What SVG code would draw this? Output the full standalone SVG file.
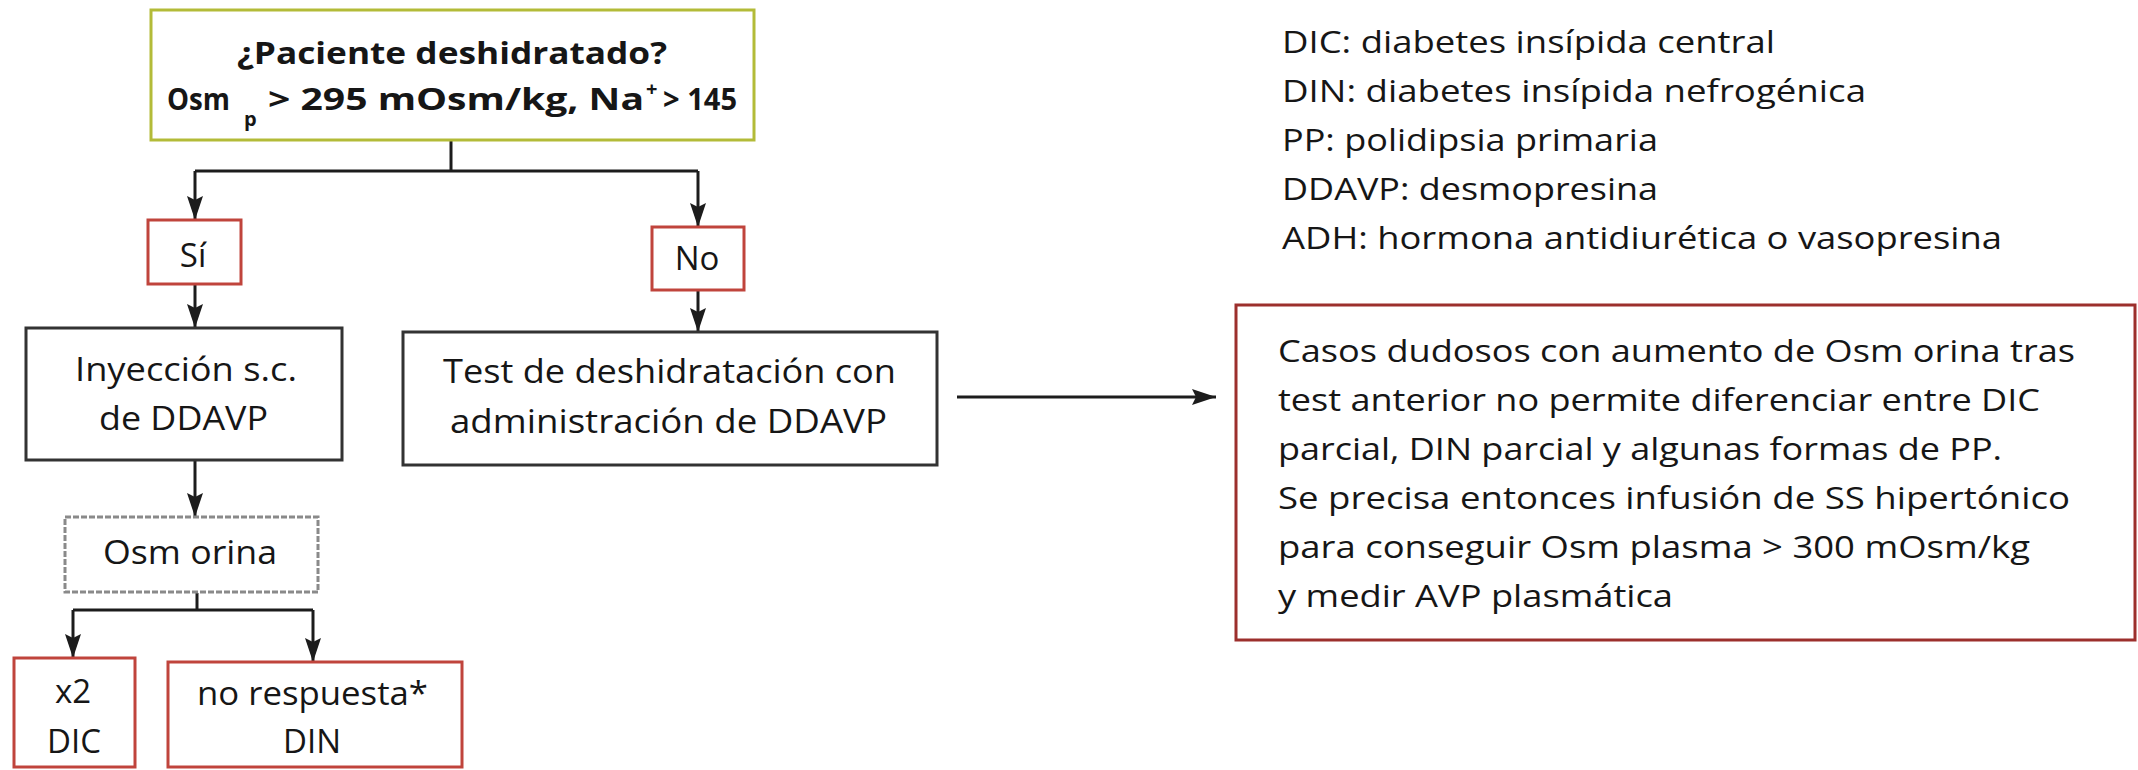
<svg xmlns="http://www.w3.org/2000/svg" width="2138" height="770" viewBox="0 0 2138 770">
<defs>
<style>
text{font-family:"Open Sans","Noto Sans","Liberation Sans",sans-serif;font-size:31px;fill:#161616}
.b{font-weight:bold}
.sm{font-size:20px}
.c{text-anchor:middle}
.t{font-size:33px}
.box{fill:#ffffff;stroke-width:3}
.yel{stroke:#b3bb38}
.red{stroke:#c0443c}
.blk{stroke:#333333}
.gry{stroke:#8a8a8a;stroke-dasharray:6 2}
.dred{stroke:#9c2f2c}
.ln{fill:none;stroke:#1c1c1c;stroke-width:3}
</style>
<marker id="ah" markerUnits="userSpaceOnUse" markerWidth="24" markerHeight="16" refX="24" refY="8" orient="auto" viewBox="0 0 24 16">
<path d="M0,0 L24,8 L0,16 L4,8 Z" fill="#1c1c1c"/>
</marker>
</defs>
<rect width="2138" height="770" fill="#ffffff"/>

<g id="connectors">
<path class="ln" d="M451,140 V171"/>
<path class="ln" d="M195,171 H698"/>
<path class="ln" d="M195,171 V220" marker-end="url(#ah)"/>
<path class="ln" d="M698,171 V227" marker-end="url(#ah)"/>
<path class="ln" d="M195,285 V328" marker-end="url(#ah)"/>
<path class="ln" d="M698,291 V332" marker-end="url(#ah)"/>
<path class="ln" d="M195,461 V517" marker-end="url(#ah)"/>
<path class="ln" d="M957,397 H1216" marker-end="url(#ah)"/>
<path class="ln" d="M197,593 V610"/>
<path class="ln" d="M73,610 H313"/>
<path class="ln" d="M73,610 V658" marker-end="url(#ah)"/>
<path class="ln" d="M313,610 V662" marker-end="url(#ah)"/>
</g>

<g id="n-paciente">
<rect class="box yel" x="151" y="10" width="603" height="130"/>
<text class="b" x="237" y="64" textLength="430" lengthAdjust="spacingAndGlyphs">¿Paciente deshidratado?</text>
<text class="b" x="167" y="110" textLength="63" lengthAdjust="spacingAndGlyphs">Osm</text>
<text class="b sm" x="244" y="126">p</text>
<text class="b" x="268" y="110" textLength="376" lengthAdjust="spacingAndGlyphs">&gt; 295 mOsm/kg, Na</text>
<text class="b sm" x="646" y="96">+</text>
<text class="b" x="663" y="110" textLength="74" lengthAdjust="spacingAndGlyphs">&gt; 145</text>
</g>

<g id="n-si">
<rect class="box red" x="148" y="220" width="93" height="64"/>
<text class="c t" x="193" y="267">Sí</text>
</g>

<g id="n-no">
<rect class="box red" x="652" y="227" width="92" height="63"/>
<text class="c t" x="697" y="270">No</text>
</g>

<g id="n-inyeccion">
<rect class="box blk" x="26" y="328" width="316" height="132"/>
<text class="t" x="75" y="381" textLength="222" lengthAdjust="spacingAndGlyphs">Inyección s.c.</text>
<text class="t" x="99" y="430" textLength="169" lengthAdjust="spacingAndGlyphs">de DDAVP</text>
</g>

<g id="n-test">
<rect class="box blk" x="403" y="332" width="534" height="133"/>
<text class="t" x="443" y="383" textLength="453" lengthAdjust="spacingAndGlyphs">Test de deshidratación con</text>
<text class="t" x="450" y="433" textLength="437" lengthAdjust="spacingAndGlyphs">administración de DDAVP</text>
</g>

<g id="n-osm">
<rect class="box gry" x="65" y="517" width="253" height="75"/>
<text class="t" x="103" y="564" textLength="174" lengthAdjust="spacingAndGlyphs">Osm orina</text>
</g>

<g id="n-dic">
<rect class="box red" x="14" y="658" width="121" height="109"/>
<text class="c t" x="73" y="703">x2</text>
<text class="c t" x="74" y="753">DIC</text>
</g>

<g id="n-din">
<rect class="box red" x="168" y="662" width="294" height="105"/>
<text class="t" x="197" y="705" textLength="231" lengthAdjust="spacingAndGlyphs">no respuesta*</text>
<text class="c t" x="312" y="753">DIN</text>
</g>

<g id="legend">
<text x="1282" y="53" textLength="493" lengthAdjust="spacingAndGlyphs">DIC: diabetes insípida central</text>
<text x="1282" y="102" textLength="584" lengthAdjust="spacingAndGlyphs">DIN: diabetes insípida nefrogénica</text>
<text x="1282" y="151" textLength="376" lengthAdjust="spacingAndGlyphs">PP: polidipsia primaria</text>
<text x="1282" y="200" textLength="376" lengthAdjust="spacingAndGlyphs">DDAVP: desmopresina</text>
<text x="1282" y="249" textLength="720" lengthAdjust="spacingAndGlyphs">ADH: hormona antidiurética o vasopresina</text>
</g>

<g id="n-casos">
<rect class="box dred" x="1236" y="305" width="899" height="335"/>
<text x="1278" y="362" textLength="797" lengthAdjust="spacingAndGlyphs">Casos dudosos con aumento de Osm orina tras</text>
<text x="1278" y="411" textLength="762" lengthAdjust="spacingAndGlyphs">test anterior no permite diferenciar entre DIC</text>
<text x="1278" y="460" textLength="724" lengthAdjust="spacingAndGlyphs">parcial, DIN parcial y algunas formas de PP.</text>
<text x="1278" y="509" textLength="792" lengthAdjust="spacingAndGlyphs">Se precisa entonces infusión de SS hipertónico</text>
<text x="1278" y="558" textLength="752" lengthAdjust="spacingAndGlyphs">para conseguir Osm plasma &gt; 300 mOsm/kg</text>
<text x="1278" y="607" textLength="395" lengthAdjust="spacingAndGlyphs">y medir AVP plasmática</text>
</g>
</svg>
